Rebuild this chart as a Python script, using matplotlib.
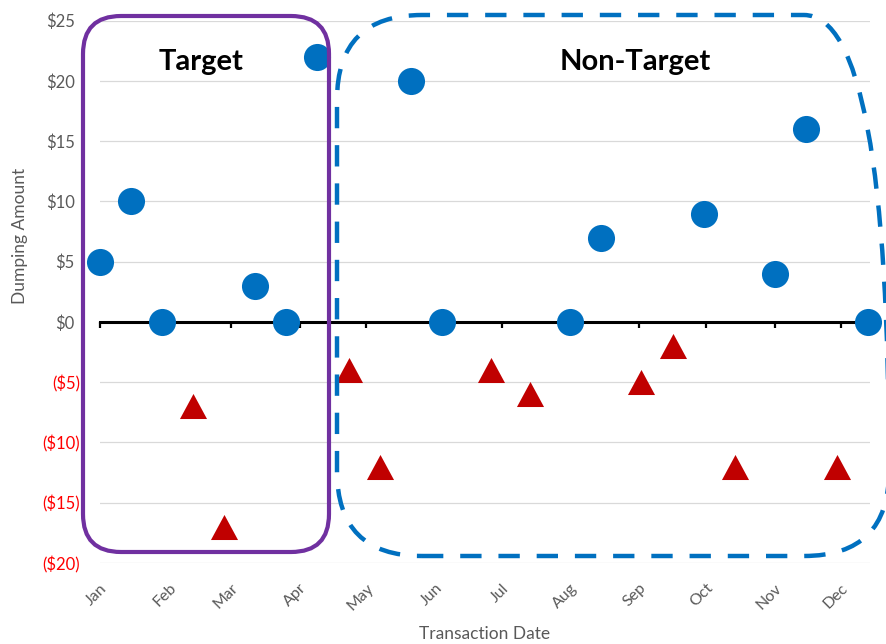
import matplotlib
matplotlib.use('Agg')
import matplotlib.pyplot as plt
from matplotlib.patches import FancyBboxPatch
from matplotlib.transforms import ScaledTranslation

# ---------------- data ----------------
months = ['Jan', 'Feb', 'Mar', 'Apr', 'May', 'Jun',
          'Jul', 'Aug', 'Sep', 'Oct', 'Nov', 'Dec']
month_start_days = [0, 31, 59, 90, 120, 151, 181, 212, 243, 273, 304, 334]

gain_days = [0, 14, 28, 70, 84, 98, 140, 154, 212, 226, 272, 304, 318, 346]
gain_amounts = [5, 10, 0, 3, 0, 22, 20, 0, 0, 7, 9, 4, 16, 0]

loss_days = [42, 56, 112, 126, 176, 194, 244, 258, 286, 332]
loss_amounts = [-7, -17, -4, -12, -4, -6, -5, -2, -12, -12]

y_ticks = [-20, -15, -10, -5, 0, 5, 10, 15, 20, 25]
group_labels = ['Target', 'Non-Target']

# ---------------- figure ----------------
plt.rcParams['font.family'] = ['Lato', 'DejaVu Sans']
W, H, DPI = 887, 644, 100
fig = plt.figure(figsize=(W / DPI, H / DPI), dpi=DPI)
L, R, B, T = 100, 870, 563, 20.7
ax = fig.add_axes([L / W, 1 - B / H, (R - L) / W, (B - T) / H])

GRAY = '#595959'

ax.set_xlim(0, 347)
ax.set_ylim(-20, 25)

# grid
ax.set_yticks(y_ticks)
ax.yaxis.grid(True, color='#D9D9D9', lw=0.9, zorder=0)
ax.set_axisbelow(True)
for s in ['left', 'right', 'top']:
    ax.spines[s].set_visible(False)

# zero axis line with month ticks
ax.spines['bottom'].set_position(('data', 0))
ax.spines['bottom'].set_linewidth(2.2)
ax.spines['bottom'].set_color('black')
ax.spines['bottom'].set_zorder(3)
ax.set_xticks(month_start_days)
ax.tick_params(axis='x', direction='out', length=4.5, width=1.6,
               color='black', labelbottom=False)

# month labels at the bottom of the plot
sec = ax.secondary_xaxis(0)
sec.set_xticks(month_start_days, labels=months)
sec.tick_params(length=0, pad=13, labelsize=11.5, labelcolor=GRAY)
sec.spines['bottom'].set_visible(False)
for lab in sec.get_xticklabels():
    lab.set_rotation(45)
    lab.set_ha('right')
    lab.set_va('top')
    lab.set_rotation_mode('anchor')

# y tick labels
def fmt(v):
    return f'${v}' if v >= 0 else f'(${-v})'
ax.set_yticklabels([fmt(v) for v in y_ticks])
ax.tick_params(axis='y', length=0, pad=14.5, labelsize=12)
for v, lab in zip(y_ticks, ax.get_yticklabels()):
    lab.set_color('#FF0000' if v < 0 else GRAY)
for v, tick in zip(y_ticks, ax.yaxis.get_major_ticks()):
    if v >= 0:
        tick.label1.set_transform(tick.label1.get_transform() +
                                  ScaledTranslation(-5 / DPI, 0, fig.dpi_scale_trans))

# points
ax.plot(gain_days, gain_amounts, ls='none', marker='o', ms=19.5,
        mfc='#0070C0', mec='none', clip_on=False, zorder=4)
tri = [(0, 0.925), (-1, -0.925), (1, -0.925), (0, 0.925)]
ax.plot(loss_days, loss_amounts, ls='none', marker=tri, ms=19.5,
        mfc='#C00000', mec='none', clip_on=False, zorder=4)

# axis titles
pt = fig.dpi_scale_trans
fig.text(20 / DPI, (H - 236) / DPI, 'Dumping Amount', transform=pt,
         rotation=90, ha='center', va='center', fontsize=12.5, color=GRAY)
fig.text(485 / DPI, (H - 634) / DPI, 'Transaction Date', transform=pt,
         ha='center', va='center', fontsize=12.5, color=GRAY)

# group boxes
purple = FancyBboxPatch((83 / DPI, (H - 552) / DPI), (329 - 83) / DPI, (552 - 16) / DPI,
                        boxstyle='round,pad=0,rounding_size=0.38', fill=False,
                        ec='#7030A0', lw=3, transform=pt, zorder=6)
fig.add_artist(purple)
blue = FancyBboxPatch((337 / DPI, (H - 556) / DPI), (889 - 337) / DPI, (556 - 15) / DPI,
                      boxstyle='round,pad=0,rounding_size=0.85', fill=False,
                      ec='#0070C0', lw=3.2, ls=(0, (4.8, 3.8)), transform=pt, zorder=6)
fig.add_artist(blue)

fig.text(201 / DPI, (H - 62) / DPI, group_labels[0], transform=pt, ha='center',
         va='center', fontsize=21, fontweight='bold', color='black', zorder=7)
fig.text(635 / DPI, (H - 62) / DPI, group_labels[1], transform=pt, ha='center',
         va='center', fontsize=21, fontweight='bold', color='black', zorder=7)

fig.savefig('out.png', dpi=DPI)
